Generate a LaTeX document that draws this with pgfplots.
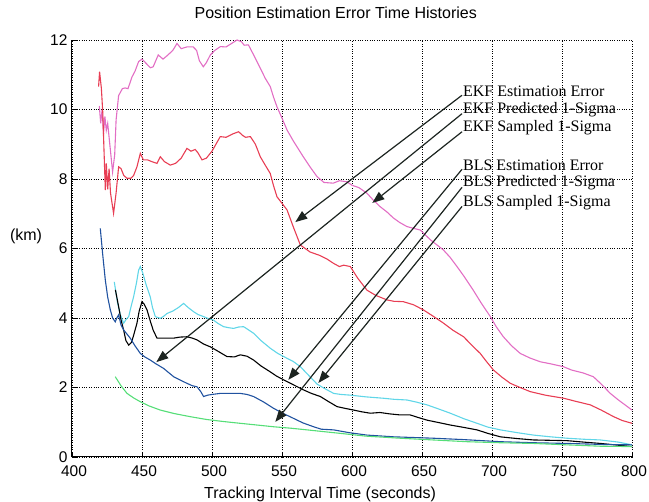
\documentclass[border=0pt]{standalone}
\usepackage{pgfplots}
\pgfplotsset{compat=1.18}
\usepackage{fontspec}
\setmainfont{Liberation Sans}
\newfontfamily\serifann{Liberation Serif}
\usetikzlibrary{arrows.meta}
\definecolor{cpink}{RGB}{226,110,196}
\definecolor{cred}{RGB}{232,62,84}
\definecolor{cblue}{RGB}{32,82,160}
\definecolor{ccyan}{RGB}{96,214,232}
\definecolor{cgreen}{RGB}{86,222,120}
\definecolor{carrow}{RGB}{28,36,32}
\begin{document}
\begin{tikzpicture}
\path[use as bounding box] (-72pt,-45pt) rectangle (577pt,457pt);
\begin{axis}[
  at={(0pt,0pt)}, anchor=south west,
  scale only axis, width=560pt, height=417pt,
  xmin=400, xmax=800, ymin=0, ymax=12,
  xtick={400,450,...,800}, ytick={0,2,...,12},
  axis x line=bottom, axis y line=left,
  axis line style={-, line width=1pt, black},
  tick align=inside, major tick length=5pt,
  tick style={black, line width=0.7pt},
  grid=major,
  major grid style={dotted, black, line width=0.7pt},
  /pgf/number format/assume math mode=true,
  /pgf/number format/1000 sep={},
  ticklabel style={font=\fontsize{15.5}{15.5}\selectfont},
  xticklabel style={yshift=-5pt, xshift=2pt},
  yticklabel style={xshift=-1pt},
  title={Position Estimation Error Time Histories},
  title style={at={(0.471,1.050)}, anchor=center, yshift=0pt, font=\fontsize{16}{16}\selectfont},
  xlabel={Tracking Interval Time (seconds)},
  xlabel style={at={(axis description cs:0.443,-0.089)}, anchor=center, font=\fontsize{16}{16}\selectfont},
  ylabel={(km)},
  ylabel style={at={(axis description cs:-0.082,0.530)}, anchor=center, rotate=-90, font=\fontsize{16}{16}\selectfont},
  clip mode=individual,
  every axis plot/.append style={line width=1.1pt},
]
% EKF sampled (pink)
\addplot[cpink] coordinates {(419.5,10.1)(420.5,9.6)(421.5,10.0)(422.5,9.3)(423.5,9.8)(424.5,9.4)(425.5,9.6)(427,9.0)(429,8.2)(430.5,8.7)(431.5,9.7)(433.3,10.4)(436,10.6)(438,10.62)(440,10.6)(442.9,10.94)(445,11.1)(447.6,11.38)(450,11.45)(453.6,11.3)(456,11.2)(458,11.23)(461.6,11.57)(465,11.45)(468,11.55)(472,11.7)(475,11.9)(478,11.75)(482,11.8)(486.6,11.8)(489,11.7)(491,11.4)(493.8,11.23)(496,11.35)(498.8,11.57)(502,11.7)(506,11.81)(510,11.8)(514,11.9)(517.9,12.0)(521,11.95)(523,11.85)(526,11.86)(530,11.55)(534.5,11.19)(538,10.9)(541.6,10.66)(544,10.35)(546.4,10.08)(550,9.75)(553.6,9.41)(558,9.1)(565.2,8.64)(570,8.35)(575,8.07)(580,7.9)(586.6,7.88)(591,7.95)(596.4,7.92)(600,7.82)(605,7.75)(610.7,7.59)(615,7.4)(620.2,7.2)(625,7.05)(629.5,6.88)(634,6.75)(639.3,6.63)(644,6.58)(648.8,6.53)(656,6.25)(665.2,5.96)(670,5.75)(675,5.48)(680,5.2)(686.6,4.8)(692,4.45)(698.8,4.04)(703,3.75)(708.1,3.46)(714,3.2)(720.2,2.98)(727,2.85)(734.5,2.74)(742,2.68)(750.9,2.6)(757,2.5)(765,2.42)(772.4,2.31)(778,2.1)(784.5,1.83)(790,1.65)(795,1.5)(800,1.35)};
% EKF estimation error (red)
\addplot[cred] coordinates {(419,10.66)(419.7,11.09)(421,10.6)(422,9.9)(422.8,8.9)(423.8,7.68)(424.5,8.45)(425.5,7.7)(426.5,8.3)(427.5,7.6)(429.7,7.01)(431.5,7.6)(433.3,8.35)(435,8.3)(437,8.1)(439.3,8.02)(442,8.02)(444,8.1)(446.4,8.35)(448.8,8.74)(451,8.55)(454,8.55)(457,8.5)(460.7,8.45)(463.1,8.64)(466,8.5)(470.2,8.4)(474,8.45)(478,8.6)(482.1,8.88)(485,8.8)(488,8.85)(490,8.75)(492.9,8.55)(496,8.6)(500,8.8)(505.9,9.22)(510,9.2)(515,9.3)(519,9.36)(522,9.25)(524,9.2)(527.4,9.22)(531,9.0)(534.5,8.64)(538,8.4)(541.6,8.16)(544,7.8)(546.4,7.49)(550,7.3)(553.6,7.11)(558,6.63)(563.1,6.1)(570,5.9)(577,5.8)(582,5.7)(586.9,5.57)(591,5.48)(594,5.52)(598.8,5.48)(604,5.15)(610.7,4.8)(617,4.65)(625,4.52)(630,4.48)(636.6,4.47)(644,4.38)(651.1,4.23)(658,4.05)(665.4,3.85)(672,3.65)(679.7,3.46)(686,3.2)(691.6,2.98)(696,2.75)(701.1,2.5)(707,2.3)(713.1,2.12)(720,2.0)(727.4,1.88)(738,1.78)(751.2,1.69)(760,1.6)(770.2,1.5)(778,1.35)(786.9,1.16)(793,1.05)(800,0.97)};
% cyan
\addplot[ccyan] coordinates {(430.2,5.04)(432.6,4.42)(434.5,4.1)(436.9,3.85)(438.5,3.95)(440.5,4.04)(442,4.3)(444,4.61)(446,5.0)(447.6,5.38)(448.8,5.48)(450.5,5.3)(453,4.95)(455.9,4.61)(457.5,4.3)(459.5,4.04)(463.1,3.99)(465.5,4.05)(467.9,4.13)(472,4.2)(476,4.3)(479.7,4.42)(483,4.3)(486.9,4.18)(490,4.1)(494,4.04)(497,3.99)(501.1,3.94)(504,3.85)(508.3,3.75)(512,3.72)(515.4,3.7)(519,3.74)(522.6,3.75)(526,3.66)(529.7,3.56)(535,3.35)(541.6,3.13)(547,2.98)(553.6,2.84)(558,2.75)(563.1,2.6)(569,2.35)(575,2.1)(580,1.98)(586.9,1.83)(592,1.8)(598.8,1.78)(610,1.73)(622.6,1.69)(630,1.66)(639.3,1.64)(646,1.58)(653.6,1.5)(662,1.38)(670.2,1.26)(680,1.1)(689.3,0.97)(697,0.86)(706,0.78)(718,0.7)(729.7,0.63)(742,0.58)(753.6,0.54)(766,0.51)(777.4,0.49)(790,0.43)(800,0.35)};
% black
\addplot[black] coordinates {(431,4.81)(433.3,4.33)(435,3.95)(436.9,3.65)(438.5,3.35)(440.5,3.22)(442.5,3.3)(444,3.5)(446.4,3.85)(448,4.2)(450,4.47)(451.5,4.4)(453.6,4.23)(456,3.9)(458,3.65)(460.7,3.42)(466,3.42)(472.6,3.42)(477,3.45)(482.1,3.46)(486,3.42)(489.3,3.37)(494,3.25)(498.8,3.17)(504,3.05)(510.7,2.89)(516,2.88)(520.2,2.94)(525,2.9)(529.7,2.79)(535,2.62)(541.6,2.45)(546,2.33)(551.2,2.22)(558,2.08)(565.4,1.93)(571,1.83)(577.4,1.74)(583,1.6)(589.3,1.45)(595,1.4)(601.2,1.35)(607,1.3)(613.1,1.26)(620,1.28)(627,1.24)(634.5,1.21)(641.6,1.21)(647,1.14)(653.6,1.06)(662,0.99)(670.2,0.92)(680,0.85)(689.3,0.78)(697,0.68)(706,0.58)(718,0.53)(729.7,0.49)(753.6,0.47)(765,0.43)(777.4,0.39)(790,0.34)(800,0.3)};
% dark blue
\addplot[cblue] coordinates {(420.2,6.58)(422,5.8)(423.8,5.09)(425.5,4.6)(427.4,4.23)(429,4.0)(430.9,3.89)(432,4.0)(433.3,4.09)(435,3.8)(437,3.65)(439,3.55)(441.6,3.42)(445,3.2)(448.8,2.98)(452,2.88)(455.9,2.79)(460,2.68)(465.4,2.55)(472.6,2.31)(477,2.22)(482.1,2.12)(486,2.05)(489.3,2.02)(492,1.88)(494,1.74)(497,1.78)(500,1.8)(505.9,1.83)(512,1.83)(520.2,1.83)(525,1.8)(529.7,1.74)(537,1.58)(544,1.4)(551,1.25)(558.3,1.11)(565,0.98)(572.6,0.87)(578,0.8)(586.9,0.78)(598,0.7)(610.7,0.63)(630,0.58)(658.3,0.54)(680,0.5)(706,0.44)(730,0.41)(753.6,0.39)(780,0.36)(800,0.35)};
% green
\addplot[cgreen] coordinates {(430.9,2.31)(435,2.05)(439.3,1.83)(444,1.7)(448.8,1.59)(455,1.47)(463.1,1.35)(473,1.25)(484.5,1.16)(496,1.08)(508.3,1.02)(520,0.97)(532.1,0.92)(544,0.87)(555.9,0.83)(568,0.78)(579.7,0.73)(591.6,0.68)(610,0.6)(634.5,0.54)(658,0.49)(682.1,0.44)(706,0.41)(729.7,0.39)(753,0.35)(777.4,0.31)(800,0.3)};
% annotations
\begin{scope}[line width=1.2pt, carrow]
\draw[-{Triangle[length=12pt,width=9pt]}] (axis cs:678.6,10.41) -- (axis cs:559.5,6.76);
\draw[-{Triangle[length=12pt,width=9pt]}] (axis cs:678.6,9.88) -- (axis cs:460.2,2.73);
\draw[-{Triangle[length=12pt,width=9pt]}] (axis cs:678.6,9.36) -- (axis cs:614.5,7.31);
\draw[-{Triangle[length=12pt,width=9pt]}] (axis cs:678.6,8.28) -- (axis cs:554.5,2.22);
\draw[-{Triangle[length=12pt,width=9pt]}] (axis cs:678.6,7.76) -- (axis cs:545.2,1.01);
\draw[-{Triangle[length=12pt,width=9pt]}] (axis cs:678.6,7.21) -- (axis cs:576,2.13);
\end{scope}
\begin{scope}[every node/.style={anchor=west, inner sep=0pt, font=\serifann\fontsize{16}{16}\selectfont}]
\node at (axis cs:679.2,10.53) {EKF Estimation Error};
\node at (axis cs:679.2,10.00) {EKF Predicted 1-Sigma};
\node at (axis cs:679.2,9.48) {EKF Sampled 1-Sigma};
\node at (axis cs:679.2,8.40) {BLS Estimation Error};
\node at (axis cs:679.2,7.88) {BLS Predicted 1-Sigma};
\node at (axis cs:679.2,7.33) {BLS Sampled 1-Sigma};
\end{scope}
\end{axis}
\end{tikzpicture}
\end{document}
